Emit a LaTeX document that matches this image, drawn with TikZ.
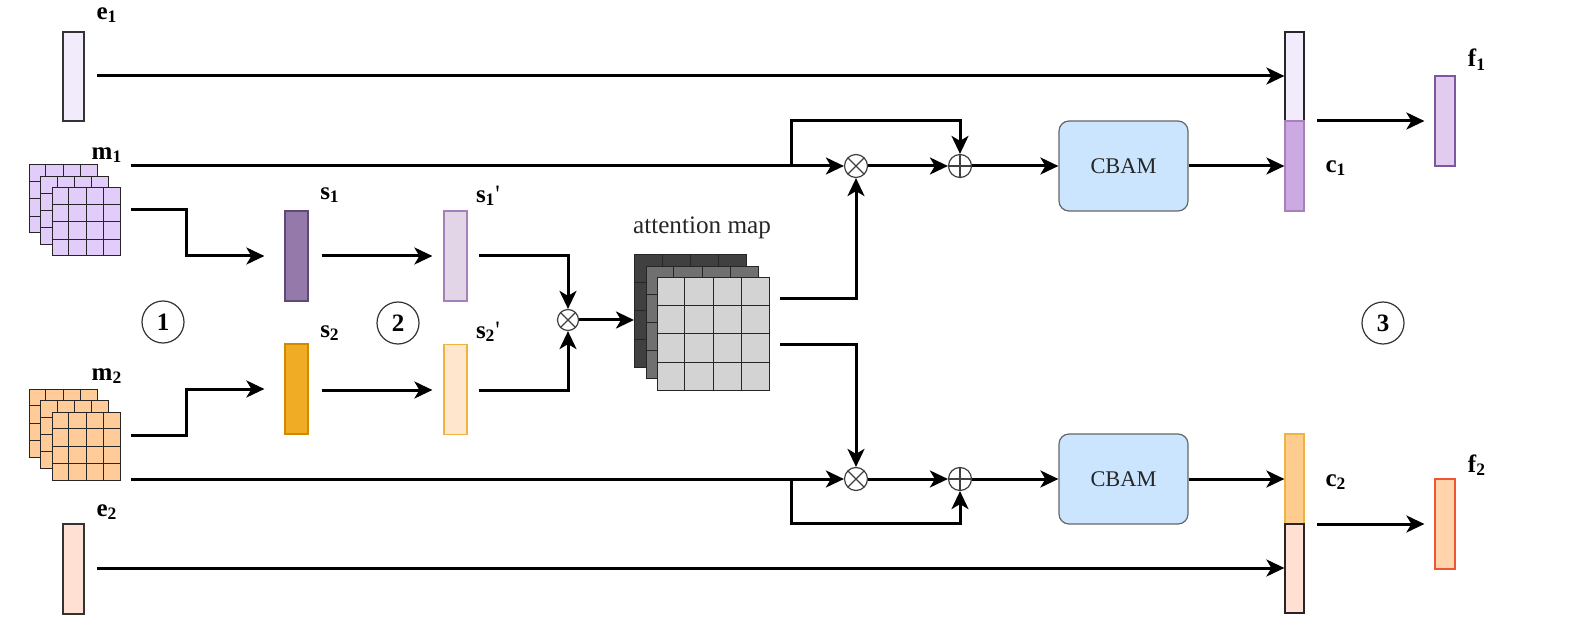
\documentclass[tikz,border=0pt]{standalone}
\usepackage{fontspec}
\setmainfont{Liberation Serif}
\usetikzlibrary{arrows.meta,calc}
\newdimen\px \px=0.5pt
\definecolor{eonec}{HTML}{F2EBFC}
\definecolor{etwoc}{HTML}{FFE0D3}
\definecolor{monec}{HTML}{E1CCFA}
\definecolor{mtwoc}{HTML}{FFCC99}
\definecolor{sonec}{HTML}{9579AA}
\definecolor{sonedr}{HTML}{5E4A75}
\definecolor{sonepc}{HTML}{E1D5E7}
\definecolor{purdr}{HTML}{A680B8}
\definecolor{stwoc}{HTML}{F0AC25}
\definecolor{stwodr}{HTML}{D08A00}
\definecolor{stwopc}{HTML}{FFE6CC}
\definecolor{stwopdr}{HTML}{EDB53F}
\definecolor{conec}{HTML}{CDA9E3}
\definecolor{ctwoc}{HTML}{FFCC8F}
\definecolor{fonec}{HTML}{E1CCF0}
\definecolor{fonedr}{HTML}{7F56A0}
\definecolor{ftwoc}{HTML}{FFD4AA}
\definecolor{ftwodr}{HTML}{EE5533}
\definecolor{cbamc}{HTML}{CCE5FF}
\definecolor{attA}{HTML}{404040}
\definecolor{attB}{HTML}{707070}
\definecolor{attC}{HTML}{D3D3D3}
\newcommand\cellgrid[1]{%
  \foreach \gq in {0.25,0.5,0.75}{%
    \draw[gl] ($(#1.north west)!\gq!(#1.north east)$) -- ($(#1.south west)!\gq!(#1.south east)$);
    \draw[gl] ($(#1.north west)!\gq!(#1.south west)$) -- ($(#1.north east)!\gq!(#1.south east)$);
  }}
\newcommand\vlab[2]{\textbf{#1}\textsubscript{\textbf{#2}}}
\begin{document}
\begin{tikzpicture}[x=0.5pt,y=-0.5pt,
  arr/.style={line width=1.5pt,-{Stealth[length=9pt,width=8.5pt,inset=2.5pt]}},
  bar/.style={draw, line width=0.6pt, inner sep=0, minimum height=90\px},
  gbox/.style={draw=black!85, line width=0.5pt, inner sep=0, minimum size=68\px},
  abox/.style={draw=black!85, line width=0.5pt, inner sep=0, minimum size=112\px},
  gl/.style={draw=black!85, line width=0.5pt},
  lbl/.style={font=\fontsize{12.5}{15}\selectfont, inner sep=0},
  num/.style={circle, draw=black!80, line width=0.6pt, minimum size=42\px, inner sep=0, font=\fontsize{12.5}{15}\selectfont\bfseries},
  cbam/.style={draw=black!60, line width=0.6pt, fill=cbamc, rounded corners=5pt, minimum width=129\px, minimum height=90\px, inner sep=0, font=\fontsize{11.2}{13}\selectfont, text=black!85},
  opx/.style={circle, draw=black!75, line width=0.6pt, inner sep=0, minimum size=23\px,
    path picture={\draw[black!75, line width=0.6pt] (path picture bounding box.north west) -- (path picture bounding box.south east) (path picture bounding box.north east) -- (path picture bounding box.south west);}},
  opp/.style={circle, draw=black!75, line width=0.6pt, inner sep=0, minimum size=23\px,
    path picture={\draw[black!75, line width=0.6pt] (path picture bounding box.north) -- (path picture bounding box.south) (path picture bounding box.west) -- (path picture bounding box.east);}}
]
\useasboundingbox (0,0) rectangle (1585,620);

% ---- e vectors
\node[bar, fill=eonec, draw=black!80, minimum width=21\px, minimum height=89\px] (e1) at (73.5,76.5) {};
\node[bar, fill=etwoc, draw=black!80, minimum width=21\px] (e2) at (73.5,569) {};
\node[lbl] (e1l) at (107,15) {\vlab{e}{1}};
\node[lbl] (e2l) at (107,512) {\vlab{e}{2}};

% ---- m grids
\node[gbox, fill=monec] (m1a0) at (63,199) {}; \cellgrid{m1a0}
\node[gbox, fill=monec] (m1b0) at (74.5,210.5) {}; \cellgrid{m1b0}
\node[gbox, fill=monec] (m1) at (86,222) {}; \cellgrid{m1}
\node[gbox, fill=mtwoc] (m2a0) at (63,423) {}; \cellgrid{m2a0}
\node[gbox, fill=mtwoc] (m2b0) at (74.5,434.5) {}; \cellgrid{m2b0}
\node[gbox, fill=mtwoc] (m2) at (86,446) {}; \cellgrid{m2}
\node[lbl] (m1l) at (107,155) {\vlab{m}{1}};
\node[lbl] (m2l) at (107,376) {\vlab{m}{2}};

% ---- s vectors
\node[bar, fill=sonec, draw=sonedr, minimum width=23\px] (s1) at (296.5,256) {};
\node[bar, fill=stwoc, draw=stwodr, minimum width=23\px] (s2) at (296.5,389) {};
\node[bar, fill=sonepc, draw=purdr, minimum width=23\px] (s1p) at (455.5,256) {};
\node[bar, fill=stwopc, draw=stwopdr, minimum width=23\px] (s2p) at (455.5,389.5) {};
\node[lbl] (s1l) at (330,195) {\vlab{s}{1}};
\node[lbl] (s2l) at (330,333) {\vlab{s}{2}};
\node[lbl] (s1pl) at (488,196) {\vlab{s}{1}\textquotesingle};
\node[lbl] (s2pl) at (488,332) {\vlab{s}{2}\textquotesingle};

% ---- numbered circles
\node[num] (n1) at (163,322) {1};
\node[num] (n2) at (398,323) {2};
\node[num] (n3) at (1383,323) {3};

% ---- attention map
\node[abox, fill=attA] (att0) at (690.5,311) {}; \cellgrid{att0}
\node[abox, fill=attB] (att1) at (702,322.5) {}; \cellgrid{att1}
\node[abox, fill=attC] (att) at (713,334) {}; \cellgrid{att}
\node[font=\fontsize{12.6}{15}\selectfont, text=black!85, inner sep=0] (attl) at (702,228) {attention map};

% ---- operators
\node[opx, minimum size=21\px] (ot0) at (568,320) {};
\node[opx] (ot1) at (856,166) {};
\node[opp] (op1) at (960,166) {};
\node[opx] (ot2) at (856,479) {};
\node[opp] (op2) at (960,479) {};

% ---- CBAM
\node[cbam] (cb1) at (1123.5,166) {CBAM};
\node[cbam] (cb2) at (1123.5,479) {CBAM};

% ---- concatenated vectors
\node[bar, fill=eonec, draw=black!85, minimum width=19\px, minimum height=89\px] (ce1) at (1294.5,76.5) {};
\node[bar, fill=conec, draw=purdr, minimum width=19\px] (c1) at (1294.5,166) {};
\node[bar, fill=ctwoc, draw=stwopdr, minimum width=19\px] (c2) at (1294.5,479) {};
\node[bar, fill=etwoc, draw=black!85, minimum width=19\px, minimum height=89\px] (ce2) at (1294.5,568.5) {};
\node[lbl] (c1l) at (1336,168) {\vlab{c}{1}};
\node[lbl] (c2l) at (1336,482) {\vlab{c}{2}};

% ---- f vectors
\node[bar, fill=fonec, draw=fonedr, minimum width=20\px] (f1) at (1445,121) {};
\node[bar, fill=ftwoc, draw=ftwodr, minimum width=20\px] (f2) at (1445,524) {};
\node[lbl] (f1l) at (1477,60) {\vlab{f}{1}};
\node[lbl] (f2l) at (1477,465) {\vlab{f}{2}};

% ---- free ends
\coordinate (e1o) at (97,76);
\coordinate (e2o) at (97,568);
\coordinate (m1a) at (131,166);
\coordinate (m1b) at (131,210);
\coordinate (m2a) at (131,479);
\coordinate (m2b) at (131,435);
\coordinate (br1) at (791,166);
\coordinate (br2) at (791,479);
\coordinate (s1pO) at (479,256);
\coordinate (s2pO) at (479,390);
\coordinate (attU) at (780,299);
\coordinate (attL) at (780,344);
\coordinate (cat1) at (1317,121);
\coordinate (cat2) at (1317,524);

% ---- connectors
\draw[arr] (e1o) -- (e1o -| ce1.west);
\draw[arr] (e2o) -- (e2o -| ce2.west);
\draw[arr] (m1a) -- (ot1.west);
\draw[arr] (m2a) -- (ot2.west);
\draw[arr] (br1) -- ++(0,-45) -| (op1.north);
\draw[arr] (br2) -- ++(0,44) -| (op2.south);
\draw[arr, shorten >=10pt] (m1b) -- ++(55,0) |- (s1.west);
\draw[arr, shorten >=10pt] (m2b) -- ++(55,0) |- (s2.west);
\draw[arr, shorten <=6.5pt, shorten >=5.5pt] (s1.east) -- (s1p.west);
\draw[arr, shorten <=6.5pt, shorten >=5.5pt] (s2.east |- s2pO) -- (s2pO -| s2p.west);
\draw[arr] (s1pO) -| (ot0.north);
\draw[arr] (s2pO) -| (ot0.south);
\draw[arr] (ot0.east) -- (ot0.east -| att0.west);
\draw[arr] (attU) -| (ot1.south);
\draw[arr] (attL) -| (ot2.north);
\draw[arr] (ot1.east) -- (op1.west);
\draw[arr] (ot2.east) -- (op2.west);
\draw[arr] (op1.east) -- (cb1.west);
\draw[arr] (op2.east) -- (cb2.west);
\draw[arr] (cb1.east) -- (c1.west);
\draw[arr] (cb2.east) -- (c2.west);
\draw[arr, shorten >=5pt] (cat1) -- (f1.west);
\draw[arr, shorten >=5pt] (cat2) -- (f2.west);
\end{tikzpicture}
\end{document}
